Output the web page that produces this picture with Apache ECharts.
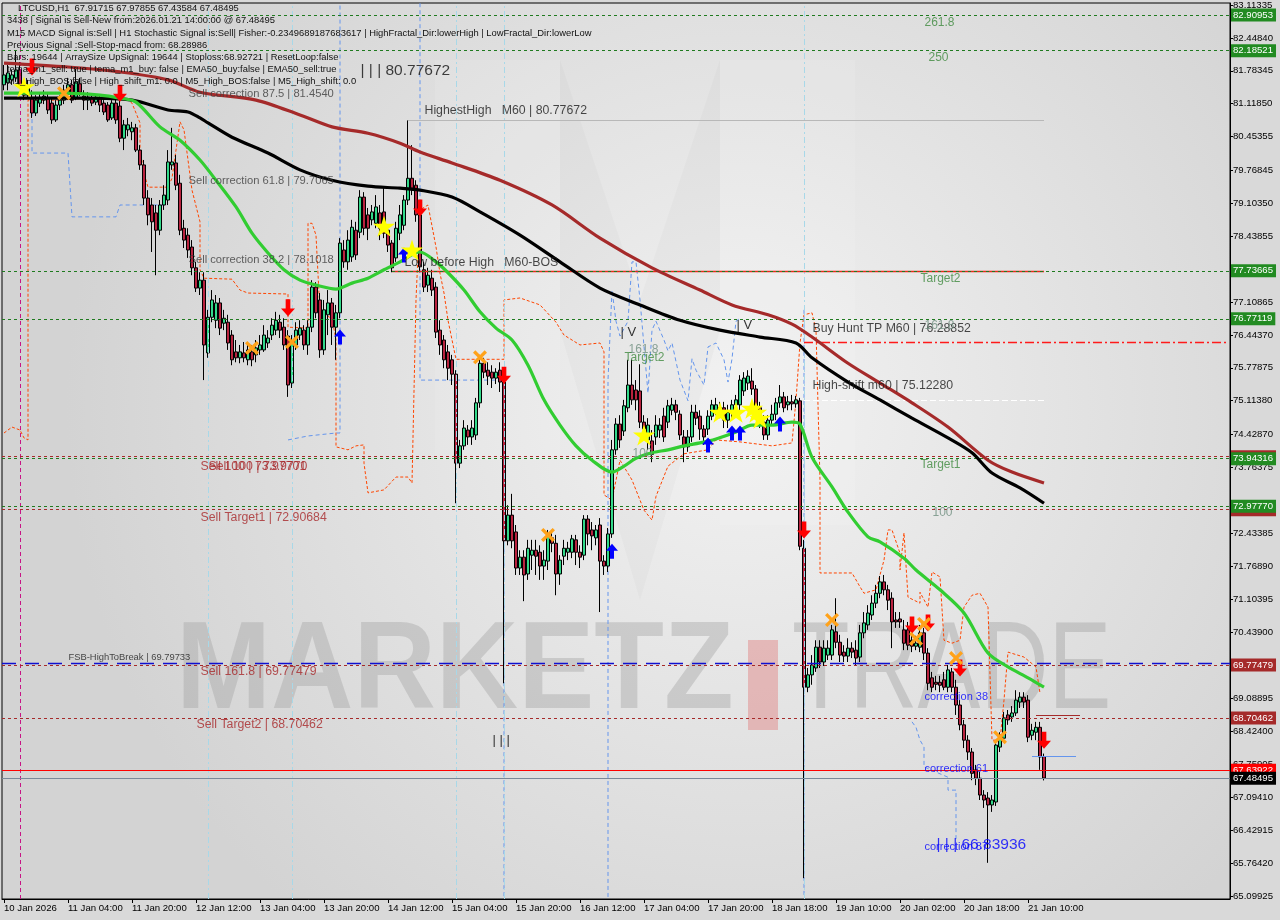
<!DOCTYPE html>
<html>
<head>
<meta charset="utf-8">
<script src="https://cdn.jsdelivr.net/npm/echarts@6/dist/echarts.min.js"></script>
<style>
html,body{margin:0;padding:0;background:#d9d9d9;}
#chart{width:1280px;height:920px;}
</style>
</head>
<body>
<div id="chart"></div>
<script>
// ---------------- DATA ----------------
const timeLabels = ['10 Jan 2026','11 Jan 04:00','11 Jan 20:00','12 Jan 12:00','13 Jan 04:00','13 Jan 20:00','14 Jan 12:00','15 Jan 04:00','15 Jan 20:00','16 Jan 12:00','17 Jan 04:00','17 Jan 20:00','18 Jan 18:00','19 Jan 10:00','20 Jan 02:00','20 Jan 18:00','21 Jan 10:00'];

const openP = [
81.50,81.54,81.60,81.64,81.80,81.50,81.29,81.23,80.93,81.13,
81.19,81.23,81.13,80.79,81.09,81.19,81.35,81.50,81.23,81.52,
81.27,81.19,81.23,81.15,81.23,81.13,81.09,80.83,81.13,81.07,
80.42,80.59,80.55,80.63,80.18,79.88,79.21,79.07,78.91,78.56,
79.07,79.17,79.88,79.92,79.51,78.60,78.46,78.22,77.80,77.39,
77.55,76.08,76.80,76.74,77.09,76.68,76.70,76.44,76.10,75.98,
76.08,75.94,76.10,76.04,76.14,76.14,76.28,76.44,76.54,76.70,
76.60,76.42,75.47,76.24,76.44,76.54,76.24,76.60,77.41,77.15,
76.14,76.85,77.09,76.60,76.89,78.16,77.92,78.02,78.56,78.52,
79.23,78.87,78.77,78.70,78.91,78.93,78.56,78.30,78.00,78.50,
78.66,79.17,79.61,79.47,78.87,77.76,77.45,77.59,77.41,76.54,
76.34,76.10,75.94,75.65,73.85,74.20,74.52,74.38,74.42,75.07,
75.87,75.73,75.69,75.57,75.73,75.49,72.28,72.80,72.46,71.73,
71.95,71.61,71.99,72.09,72.05,71.77,71.87,72.34,72.23,71.61,
71.97,72.05,72.05,72.30,72.05,71.99,72.72,72.50,72.34,72.60,
71.87,71.77,72.42,74.12,74.64,74.50,74.97,75.43,75.33,75.31,
74.68,74.32,74.30,74.38,74.52,74.80,74.68,74.92,75.03,74.84,
74.38,74.18,74.38,74.88,74.80,74.54,74.54,74.80,74.92,74.88,
74.97,74.72,74.88,75.03,75.03,75.31,75.47,75.51,75.35,74.97,
74.68,74.42,74.72,74.84,75.07,75.19,75.03,75.09,75.05,75.11,
72.13,69.32,69.57,69.71,70.13,69.83,69.97,69.97,70.44,70.23,
70.03,69.95,70.11,70.07,69.93,70.42,70.58,70.78,71.02,71.22,
71.45,71.29,71.12,70.68,70.70,70.48,70.48,70.27,70.15,70.13,
70.42,70.01,69.51,69.42,69.42,69.47,69.32,69.63,69.32,68.96,
68.56,68.25,68.01,67.65,67.48,67.14,67.08,66.94,67.00,68.11,
68.29,68.76,68.72,68.80,69.02,69.12,69.06,68.35,68.41,68.51,
67.91715];

const closeP = [
81.70,81.74,81.70,81.80,81.50,81.29,81.43,80.93,81.19,81.23,
81.27,80.99,80.79,81.09,81.19,81.39,81.50,81.19,81.56,81.35,
81.19,81.25,81.13,81.25,81.09,80.95,80.79,81.13,80.79,80.42,
80.69,80.69,80.63,80.18,79.88,79.21,78.87,78.73,78.56,79.07,
79.27,79.94,79.94,79.47,78.56,78.36,78.16,77.80,77.39,77.55,
76.24,76.80,77.15,77.09,76.58,76.78,76.28,75.94,75.98,76.10,
75.98,76.14,75.94,76.18,76.24,76.44,76.38,76.64,76.74,76.54,
76.24,75.43,76.28,76.54,76.58,76.24,76.60,77.41,76.89,76.14,
76.95,77.09,76.60,76.89,78.30,77.92,78.36,78.62,78.06,79.23,
78.60,78.60,78.93,79.03,78.60,78.50,78.26,77.80,78.60,78.87,
79.17,79.61,79.41,78.87,77.82,77.41,77.65,77.35,76.50,76.24,
75.94,75.77,75.65,73.85,74.20,74.56,74.38,74.56,75.07,75.87,
75.69,75.61,75.57,75.69,75.49,72.28,72.80,72.28,71.73,71.95,
71.59,72.13,72.09,71.97,71.77,71.89,72.40,72.23,71.61,71.89,
72.13,72.13,72.32,72.05,71.95,72.72,72.42,72.38,72.50,71.87,
71.77,72.42,74.12,74.64,74.32,75.01,75.43,75.13,75.13,74.68,
74.54,74.62,74.03,74.62,74.62,74.38,75.01,75.03,74.88,74.42,
74.18,74.38,74.88,74.76,74.54,74.38,74.80,75.03,75.03,74.97,
74.72,74.88,75.03,75.13,75.53,75.57,75.61,75.35,74.97,74.68,
74.42,74.72,74.84,75.07,75.19,74.97,75.09,75.05,75.13,72.17,
69.32,69.57,69.77,70.13,69.83,70.11,70.11,70.48,70.23,69.97,
69.95,70.11,70.03,69.91,70.42,70.62,70.82,71.02,71.22,71.45,
71.29,71.08,70.64,70.64,70.64,70.21,70.17,70.15,70.21,70.42,
70.01,69.40,69.32,69.38,69.36,69.32,69.67,69.32,68.96,68.56,
68.25,68.01,67.58,67.48,67.14,67.04,66.94,67.04,68.15,68.29,
68.70,68.66,68.80,69.06,69.12,69.02,68.31,68.45,68.51,67.91,
67.48495];

const lowP = [
81.39,81.39,81.50,81.56,81.43,81.19,81.23,80.83,80.87,81.05,
81.11,80.91,80.71,80.75,80.99,81.11,81.27,81.13,81.19,81.27,
80.99,80.99,81.07,81.09,80.95,80.89,80.75,80.79,80.71,80.34,
80.18,80.46,80.38,80.14,79.78,79.07,78.66,78.12,77.65,78.46,
78.97,79.07,79.78,79.37,78.46,78.20,78.00,77.65,77.31,77.25,
75.53,75.98,76.70,76.58,76.44,76.54,76.14,75.83,75.89,75.87,
75.89,75.83,75.81,75.89,76.04,76.10,76.18,76.34,76.44,76.38,
76.14,75.19,75.37,76.14,76.34,76.14,76.04,76.50,76.78,75.98,
76.04,76.44,76.24,75.94,76.78,77.80,77.76,77.92,77.96,78.40,
78.46,78.36,78.66,78.60,78.36,78.40,78.12,77.71,77.92,78.36,
78.56,79.07,79.27,78.73,77.71,77.31,77.31,77.23,76.38,76.04,
75.77,75.53,75.43,73.04,73.75,74.12,74.22,74.22,74.32,74.97,
75.57,75.43,75.37,75.45,75.29,69.40,72.19,72.13,71.59,71.59,
71.06,71.49,71.69,71.59,71.49,71.49,71.69,72.05,71.18,71.39,
71.79,71.89,71.93,71.79,71.73,71.89,72.19,72.09,72.19,70.84,
71.59,71.65,72.34,74.02,74.16,74.40,74.88,75.03,74.92,74.56,
74.32,74.12,73.87,74.22,74.36,74.28,74.56,74.82,74.72,74.32,
73.87,74.08,74.28,74.62,74.32,74.22,74.42,74.72,74.82,74.76,
74.56,74.56,74.76,74.88,74.92,75.21,75.33,75.23,74.88,74.56,
74.32,74.32,74.62,74.72,74.97,74.88,74.92,74.92,74.97,72.09,
65.46,69.22,69.37,69.63,69.71,69.75,69.87,69.87,70.11,69.83,
69.83,69.83,69.91,69.77,69.83,70.31,70.48,70.68,70.92,71.12,
71.18,70.88,70.11,70.52,70.52,70.07,70.07,70.03,70.07,70.03,
69.87,69.26,69.22,69.26,69.22,69.26,69.22,69.22,68.76,68.45,
68.09,67.85,67.44,67.34,67.04,66.88,65.77,66.80,66.92,68.01,
68.21,68.56,68.62,68.74,68.90,68.90,68.21,68.25,68.25,67.65,
67.43584];

const highP = [
81.90,81.90,81.80,82.20,81.96,81.60,81.60,81.39,81.29,81.35,
81.39,81.33,81.23,81.19,81.29,81.50,81.64,81.60,81.84,81.64,
81.39,81.35,81.31,81.31,81.29,81.19,81.15,81.19,81.29,81.19,
80.79,80.83,80.75,80.71,80.28,79.98,79.37,79.21,79.07,79.17,
79.47,80.18,80.63,80.08,79.68,78.77,78.60,78.36,77.92,77.71,
77.71,76.95,77.35,77.25,77.19,76.95,76.85,76.54,76.34,76.24,
76.30,76.24,76.24,76.34,76.44,76.64,76.54,76.78,76.91,76.85,
76.78,76.54,76.44,76.70,76.74,76.64,76.74,77.55,77.51,77.29,
77.15,77.35,77.19,77.05,78.40,78.36,78.56,78.77,78.73,79.37,
79.33,79.01,79.07,79.27,79.07,79.41,78.66,78.36,78.73,79.07,
79.27,80.78,80.28,79.57,78.97,77.92,77.80,77.76,77.51,76.74,
76.44,76.24,76.04,75.73,74.32,74.72,74.62,74.72,75.17,76.04,
75.98,75.89,75.83,75.77,75.89,75.57,73.00,73.23,72.60,72.09,
72.09,72.30,72.30,72.30,72.19,72.09,72.50,72.50,72.40,71.99,
72.30,72.26,72.40,72.40,72.19,72.80,72.80,72.66,72.60,72.74,
71.99,72.54,74.32,74.76,74.82,75.13,75.94,75.94,75.53,75.85,
74.82,74.76,74.52,74.82,74.76,74.97,75.13,75.17,75.13,74.92,
74.52,74.52,75.03,75.03,74.92,74.62,74.92,75.13,75.17,75.09,
75.09,75.03,75.13,75.23,75.63,75.69,75.73,75.77,75.43,75.09,
74.82,74.82,75.03,75.17,75.43,75.29,75.21,75.23,75.21,75.17,
72.30,69.71,69.97,70.27,70.27,70.27,70.27,70.58,71.12,70.38,
70.17,70.31,70.23,70.27,70.58,70.84,70.98,71.18,71.39,71.57,
71.59,71.39,71.24,70.84,70.84,70.68,70.64,70.48,70.36,70.58,
70.52,70.11,69.63,69.55,69.55,69.63,69.77,69.71,69.47,69.06,
68.66,68.35,68.09,67.75,67.61,67.24,67.20,67.14,68.25,68.41,
68.82,68.86,68.94,69.26,69.22,69.22,69.16,68.58,68.62,68.62,
67.97855];

// moving averages: [bar, price]
const emaFast = [[0,81.33],[14,81.33],[24,81.29],[29,81.23],[33,81.15],[39,80.65],[44,80.38],[49,79.98],[53,79.57],[58,79.03],[62,78.50],[66,78.10],[70,77.76],[74,77.55],[78,77.45],[83,77.37],[87,77.49],[91,77.59],[95,77.76],[99,77.92],[104,78.12],[108,77.92],[111,77.70],[115,77.35],[119,76.91],[123,76.58],[127,76.34],[131,75.83],[135,75.13],[139,74.62],[143,74.20],[147,73.91],[152,73.67],[155,73.79],[158,73.95],[162,74.06],[166,74.12],[170,74.20],[174,74.26],[178,74.34],[183,74.48],[187,74.62],[192,74.62],[197,74.68],[199,74.64],[202,73.97],[207,73.37],[211,72.86],[216,72.36],[219,72.26],[225,71.93],[228,71.69],[234,71.29],[240,70.82],[246,70.01],[251,69.73],[256,69.51],[260,69.32]];
const emaMid = [[0,81.23],[20,81.23],[32,81.19],[41,80.99],[46,80.95],[49,80.83],[51,80.73],[57,80.44],[66,80.12],[74,79.78],[82,79.57],[91,79.45],[99,79.41],[104,79.37],[112,79.23],[119,78.93],[129,78.46],[139,77.92],[149,77.39],[159,77.05],[169,76.74],[179,76.54],[189,76.40],[198,76.28],[202,75.98],[211,75.49],[219,75.13],[227,74.76],[236,74.36],[242,74.06],[247,73.65],[254,73.35],[260,73.04]];
const emaSlow = [[0,81.94],[16,81.86],[29,81.76],[41,81.60],[49,81.35],[63,81.19],[74,80.89],[82,80.65],[91,80.52],[99,80.32],[104,80.14],[112,79.92],[124,79.57],[137,79.07],[149,78.40],[162,77.80],[174,77.35],[182,77.05],[191,76.85],[197,76.66],[202,76.40],[211,75.87],[219,75.47],[227,75.07],[236,74.58],[246,73.91],[252,73.67],[260,73.45]];

const orangeBand = [[0,74.46],[2,74.58],[4,74.52],[5,74.36],[6,74.32],[6,81.19],[14,81.19],[24,81.25],[31,81.19],[32,81.13],[34,80.73],[34,80.18],[35,79.72],[36,79.43],[41,79.43],[42,79.61],[44,80.75],[45,80.59],[47,79.37],[49,78.73],[49,77.76],[50,77.59],[57,77.57],[59,77.35],[61,77.29],[71,77.27],[71,76.60],[76,76.58],[76,78.70],[77,78.70],[78,78.46],[79,76.89],[82,76.78],[83,76.34],[83,74.18],[86,74.12],[88,74.20],[90,74.22],[90,73.85],[91,73.25],[95,73.31],[98,73.57],[101,73.57],[102,73.45],[103,77.15],[104,78.97],[106,79.07],[108,78.22],[109,77.69],[110,77.29],[111,76.74],[113,75.95],[125,75.95],[125,77.15],[129,77.19],[134,77.05],[138,76.70],[140,76.44],[144,76.24],[149,76.28],[150,76.10],[150,73.21],[152,73.10],[154,73.91],[157,73.51],[160,72.90],[162,72.70],[163,73.18],[166,73.79],[170,74.04],[176,74.12],[178,74.32],[184,74.28],[192,74.20],[197,74.26],[198,75.13],[199,76.28],[200,76.85],[202,76.89],[203,76.54],[204,73.51],[204,71.63],[212,71.63],[214,71.35],[215,71.22],[218,71.29],[220,71.89],[221,72.50],[222,72.50],[224,72.03],[224,71.69],[225,72.44],[226,71.14],[229,71.02],[229,71.24],[231,70.94],[232,71.65],[234,71.55],[235,70.27],[237,70.21],[239,70.27],[240,70.94],[242,71.18],[244,71.22],[246,70.94],[247,68.25],[249,68.25],[250,69.06],[251,70.03],[255,69.93],[258,69.73],[259,69.20]];

const blueBands = [
  [[7,81.23],[7,80.12],[16,80.12],[17,78.83],[28,78.83],[29,79.07],[41,79.07]],
  [[71,74.32],[76,74.40],[83,74.46],[84,74.46],[84,83.15]],
  [[104,83.15],[104,75.53],[125,75.53],[125,65.08]],
  [[151,65.08],[151,75.53],[152,77.35],[153,76.72],[154,76.42],[156,76.72],[157,77.92],[158,77.92],[159,77.15],[161,75.27],[162,76.54],[163,76.72],[165,76.34],[166,76.12],[167,76.28],[169,75.53],[171,75.11],[172,75.96],[173,75.73],[175,75.43],[176,76.20],[178,76.28],[180,75.94],[181,75.49],[182,75.96],[183,76.72],[184,76.78]],
  [[200,76.95],[200,65.08]],
  [[227,68.62],[228,68.51],[229,68.25],[230,68.11],[230,67.71],[236,67.50],[236,67.24],[238,67.24],[238,66.58],[238,66.23]]
];

// signal markers: [bar, price]
const sellArrows = [[7,81.86],[29,81.33],[71,76.99],[104,79.01],[125,75.63],[200,72.50],[227,70.58],[231,70.62],[239,69.71],[260,68.25]];
const buyArrows = [[84,76.40],[100,78.06],[152,72.07],[176,74.22],[182,74.46],[184,74.46],[194,74.64]];
const stars = [[5,81.46],[95,78.64],[102,78.16],[160,74.42],[179,74.88],[183,74.88],[187,74.96],[188,74.88],[189,74.76]];
const crosses = [[15,81.33],[62,76.18],[72,76.30],[119,75.99],[136,72.40],[207,70.68],[228,70.30],[230,70.60],[238,69.91],[249,68.31]];

// horizontal levels
const fibTargetLevels = [82.90953, 82.18521, 77.73665, 76.77119, 73.94316, 72.97770];
const sellLevels = [73.97701, 72.90684, 69.77479, 68.70462];
const fsbLevel = 69.79733;
const stopLevel = 67.63922;
const bidPrice = 67.48495;
const buyHuntTP = 76.28852;
const highShift = 75.12280;
const highestHigh = 80.77672;
const lowBeforeHigh = 77.7366;
const lastBoxLow = 68.76, lastBoxMid = 67.93;

// vertical time markers (bar indices)
const sessionLines = [51, 72, 113, 125, 200];
const signalLine = 4;

// y-axis tick labels
const yTickValues = [83.11335,82.44840,81.78345,81.11850,80.45355,79.76845,79.10350,78.43855,77.10865,76.44370,75.77875,75.11380,74.42870,73.76375,72.98880,72.43385,71.76890,71.10395,70.43900,69.08895,68.42400,67.75905,67.09410,66.42915,65.76420,65.09925];

// text annotations: [text, bar, price, kind]
const annotations = [
 ['Sell correction 87.5 | 81.4540', 46, 81.31, 'corr'],
 ['Sell correction 61.8 | 79.7065', 46, 79.56, 'corr'],
 ['Sell correction 38.2 | 78.1018', 46, 77.96, 'corr'],
 ['Sell 100 | 73.97701', 49, 73.79, 'sell'],
 ['Sell 100 | 73.9770', 51, 73.79, 'sell'],
 ['Sell Target1 | 72.90684', 49, 72.74, 'sell'],
 ['Sell 161.8 | 69.77479', 49, 69.63, 'sell'],
 ['Sell Target2 | 68.70462', 48, 68.56, 'sell'],
 ['FSB-HighToBreak | 69.79733', 16, 69.93, 'small'],
 ['| | | 80.77672', 89, 81.78, 'big'],
 ['HighestHigh   M60 | 80.77672', 105, 80.97, 'info'],
 ['Low before High   M60-BOS', 100, 77.90, 'info'],
 ['Buy Hunt TP M60 | 76.28852', 202, 76.58, 'info'],
 ['High-shift m60 | 75.12280', 202, 75.41, 'info'],
 ['261.8', 230, 82.75, 'fib'],
 ['250', 231, 82.04, 'fib'],
 ['Target2', 229, 77.59, 'fib'],
 ['161.8', 230, 76.62, 'fibgray'],
 ['Target1', 229, 73.81, 'fib'],
 ['100', 232, 72.84, 'fibgray'],
 ['161.8', 156, 76.14, 'fibgray'],
 ['Target2', 155, 75.98, 'fib'],
 ['100', 157, 74.05, 'fibgray'],
 ['correction 38', 230, 69.12, 'corrBlue'],
 ['correction 61', 230, 67.67, 'corrBlue'],
 ['correction 87', 230, 66.09, 'corrBlue'],
 ['| | | 66.83936', 233, 66.13, 'bigBlue'],
 ['| | |', 122, 68.25, 'marks'],
 ['| V', 154, 76.50, 'marks'],
 ['| V', 183, 76.64, 'marks']
];

const infoLines = [
 'LTCUSD,H1  67.91715 67.97855 67.43584 67.48495',
 '3438 | Signal is Sell-New from:2026.01.21 14:00:00 @ 67.48495',
 'M15 MACD Signal is:Sell | H1 Stochastic Signal is:Sell| Fisher:-0.2349689187683617 | HighFractal_Dir:lowerHigh | LowFractal_Dir:lowerLow',
 'Previous Signal :Sell-Stop-macd from: 68.28986',
 'Bars: 19644 | ArraySize UpSignal: 19644 | Stoploss:68.92721 | ResetLoop:false',
 'tema_m1_sell: true | tema_m1_buy: false | EMA50_buy:false | EMA50_sell:true',
 'M1_High_BOS:false | High_shift_m1: 0.0 | M5_High_BOS:false | M5_High_shift: 0.0'
];

// ---------------- CHART ----------------
const FONT = '"Liberation Sans", Arial, sans-serif';
const N_SLOTS = 307;
const LAST = N_SLOTS - 1;
const categories = Array.from({length: N_SLOTS}, (_, i) => String(i));
const candles = openP.map((o, i) => [o, closeP[i], lowP[i], highP[i]]);
const showTime = (i) => i % 16 === 0 && i / 16 < timeLabels.length;

const kindStyle = {
  corr: {color: '#3c3c3c', fontSize: 11.2},
  sell: {color: '#a8282a', fontSize: 12.3},
  small: {color: '#202020', fontSize: 9.4},
  big: {color: '#111', fontSize: 15.5},
  info: {color: '#1a1a1a', fontSize: 12.3},
  fib: {color: '#3f8a3f', fontSize: 12},
  fibgray: {color: '#6f8f7f', fontSize: 12},
  corrBlue: {color: '#0000ff', fontSize: 11},
  bigBlue: {color: '#0000ff', fontSize: 15.5},
  marks: {color: '#000', fontSize: 13}
};

function boxLabel(v, bg) {
  return {show: true, position: 'end', distance: 1, formatter: v.toFixed(5),
    backgroundColor: bg, color: '#fff', fontSize: 9.6, fontFamily: FONT,
    padding: [2, 3, 1, 2]};
}
function hl(v, color, type, width, bg) {
  return {yAxis: v, lineStyle: {color, type, width}, label: bg ? boxLabel(v, bg) : {show: false}};
}
function seg(x0, x1, v, color, type, width) {
  return [{coord: [x0, v], lineStyle: {color, type, width}, label: {show: false}}, {coord: [x1, v]}];
}
function vl(x, color, type, width) {
  return {xAxis: x, lineStyle: {color, type, width}, label: {show: false}};
}
function markerSeries(data, symbol, size, color, z) {
  return {type: 'scatter', data, symbol, symbolSize: size, symbolKeepAspect: false,
    itemStyle: {color, opacity: 1}, z, silent: true};
}
function lineS(data, color, width, type, z, smooth) {
  return {type: 'line', data, showSymbol: false, symbol: 'none', smooth: smooth || false,
    lineStyle: {color, width, type: type || 'solid'}, z, silent: true, connectNulls: true};
}

const arrowDown = 'path://M4,0 L8,0 L8,8 L12,8 L6,15 L0,8 L4,8 Z';
const arrowUp = 'path://M6,0 L12,7 L8,7 L8,15 L4,15 L4,7 L0,7 Z';
const starPath = 'path://M50,0 L61,35 L98,35 L68,57 L79,91 L50,70 L21,91 L32,57 L2,35 L39,35 Z';
const crossPath = 'path://M0,2 L2,0 L6,4 L10,0 L12,2 L8,6 L12,10 L10,12 L6,8 L2,12 L0,10 L4,6 Z';

const series = [];

series.push({
  type: 'line', data: [], z: 1, silent: true,
  markLine: {symbol: 'none', silent: true, animation: false,
    data: [
      vl(String(signalLine), '#c71585', [4, 3], 1),
      ...sessionLines.map(x => vl(String(x), '#a8d8e8', [6, 3, 2, 3], 1)),
      hl(fsbLevel, '#1010d0', [14, 9], 1.3),
      ...sellLevels.map(v => hl(v, '#a52a2a', [3, 3], 1, '#a52a2a')),
      seg(97, 260, lowBeforeHigh, '#e8281a', 'solid', 1.3),
      seg(101, 260, highestHigh, '#b8b8b8', 'solid', 1),
      seg(200, LAST, buyHuntTP, '#ff1a1a', [9, 3, 2, 3], 1.3),
      seg(200, 260, highShift, '#ffffff', [6, 3], 1),
      seg(258, 269, lastBoxLow, '#a52a2a', 'solid', 1),
      seg(257, 268, lastBoxMid, '#6495ed', 'solid', 1.2)
    ]}
});
series.push({
  type: 'line', data: [], z: 2, silent: true,
  markLine: {symbol: 'none', silent: true, animation: false,
    data: [
      ...fibTargetLevels.map(v => hl(v, '#1f7a1f', [3, 3], 1, '#228b22')),
      hl(stopLevel, '#ff0000', 'solid', 1.2, '#ff0000'),
      hl(bidPrice, '#7a8899', 'solid', 1.2, '#000000')
    ]}
});

series.push(lineS(orangeBand, '#ff4500', 1, [3, 2], 3));
blueBands.forEach(b => series.push(lineS(b, '#6495ed', 1, [4, 3], 3)));

series.push({
  type: 'candlestick', data: candles, barWidth: 3, z: 4, silent: true,
  itemStyle: {color: '#33d98a', color0: '#b8233f', borderColor: '#000', borderColor0: '#000', borderWidth: 1}
});

series.push(lineS(emaSlow, '#a52a2a', 3.2, 'solid', 5, 0.3));
series.push(lineS(emaMid, '#000000', 3.2, 'solid', 5, 0.3));
series.push(lineS(emaFast, '#32cd32', 3.2, 'solid', 6, 0.3));

series.push(markerSeries(sellArrows, arrowDown, [14, 17], '#ff0000', 8));
series.push(markerSeries(buyArrows, arrowUp, [12, 15], '#0000ff', 8));
series.push(markerSeries(stars, starPath, [22, 21], '#ffff00', 8));
series.push(markerSeries(crosses, crossPath, [14, 14], '#ffa21a', 8));

series.push({
  type: 'scatter', z: 9, silent: true, symbolSize: 1, itemStyle: {color: 'rgba(0,0,0,0)'},
  data: annotations.map(a => ({
    value: [a[1], a[2]],
    label: {show: true, position: 'right', distance: 0, formatter: a[0],
      color: kindStyle[a[3]].color, fontSize: kindStyle[a[3]].fontSize, fontFamily: FONT}
  }))
});

const graphics = [];
// faint logo shapes
graphics.push({type: 'polygon', z: 1, silent: true,
  shape: {points: [[435, 60], [560, 60], [560, 460], [435, 460]]}, style: {fill: 'rgba(255,255,255,0.1)'}});
graphics.push({type: 'polygon', z: 1, silent: true,
  shape: {points: [[560, 60], [640, 300], [720, 60], [720, 330], [640, 600], [560, 330]]}, style: {fill: 'rgba(150,150,150,0.06)'}});
graphics.push({type: 'polygon', z: 1, silent: true,
  shape: {points: [[720, 60], [855, 60], [855, 525], [720, 525]]}, style: {fill: 'rgba(255,255,255,0.1)'}});
// watermark text
graphics.push({type: 'text', left: 176, top: 612, z: 1, silent: true,
  style: {text: 'MARKETZ', fill: 'rgba(165,165,165,0.42)', font: 'bold 124px ' + FONT}, scaleX: 0.92});
graphics.push({type: 'rect', left: 748, top: 640, z: 1, silent: true,
  shape: {width: 30, height: 90}, style: {fill: 'rgba(225,120,120,0.42)'}});
graphics.push({type: 'text', left: 792, top: 612, z: 1, silent: true,
  style: {text: 'TRADE', fill: 'rgba(160,160,160,0.42)', font: '124px ' + FONT}, scaleX: 0.76});
// header info
infoLines.forEach((t, i) => {
  graphics.push({type: 'text', left: i === 0 ? 18 : 7, top: [4, 16, 29, 41, 53, 65, 77][i], z: 100, silent: true,
    style: {text: t, fill: '#111', font: '9.4px ' + FONT}});
});

const chart = echarts.init(document.getElementById('chart'), null, {renderer: 'canvas'});
chart.setOption({
  animation: false,
  backgroundColor: '#d9d9d9',
  grid: {left: 2, right: 50, top: 3, bottom: 21, show: true, borderColor: '#000', borderWidth: 1,
    backgroundColor: new echarts.graphic.RadialGradient(0.6, 0.45, 0.75, [
      {offset: 0, color: '#f2f2f2'}, {offset: 1, color: '#d3d3d3'}])},
  xAxis: {
    type: 'category', data: categories, boundaryGap: true,
    axisLine: {show: true, lineStyle: {color: '#000', width: 1}},
    axisTick: {show: true, interval: (i) => showTime(i), alignWithLabel: true, length: 4, lineStyle: {color: '#000'}},
    axisLabel: {interval: (i) => showTime(i), formatter: (v, i) => timeLabels[Math.round(i / 16)] || '',
      align: 'left', margin: 4, fontSize: 9.6, color: '#000', fontFamily: FONT, hideOverlap: false},
    splitLine: {show: false}
  },
  yAxis: {
    type: 'value', position: 'right', min: 65.0386, max: 83.1538, scale: true,
    axisLine: {show: true, lineStyle: {color: '#000'}},
    axisTick: {show: true, customValues: yTickValues, length: 3, lineStyle: {color: '#000'}},
    axisLabel: {customValues: yTickValues, formatter: (v) => v.toFixed(5), fontSize: 9.6, color: '#000',
      fontFamily: FONT, margin: 3, showMinLabel: true, showMaxLabel: true},
    splitLine: {show: false}
  },
  graphic: graphics,
  series
});
</script>
</body>
</html>
